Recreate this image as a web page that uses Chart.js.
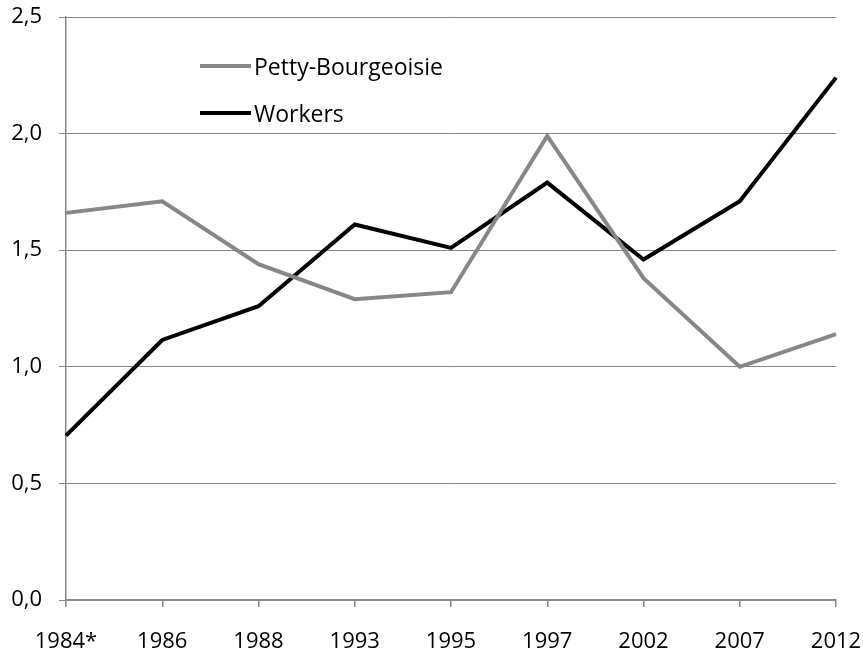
<!DOCTYPE html>
<html>
<head>
<meta charset="utf-8">
<script src="https://cdn.jsdelivr.net/npm/chart.js@4.4.1/dist/chart.umd.min.js"></script>
<style>
  html, body { margin: 0; padding: 0; background: #fff; }
  #wrap { position: relative; width: 863px; height: 653px; }
  .legend-item { position: absolute; left: 200px; display: flex; align-items: center;
    font-family: "Open Sans", sans-serif; font-size: 23px; line-height: 30px; color: #000; }
  .legend-item span.swatch { display: inline-block; width: 51px; height: 4px; margin-right: 3px; }
</style>
</head>
<body>
<div id="wrap">
  <canvas id="chart" width="863" height="653"></canvas>
  <div class="legend-item" style="top:51px;"><span class="swatch" style="background:#878787"></span>Petty-Bourgeoisie</div>
  <div class="legend-item" style="top:98px;"><span class="swatch" style="background:#000"></span>Workers</div>
</div>
<script>
// categories and series
const years = ["1984*", "1986", "1988", "1993", "1995", "1997", "2002", "2007", "2012"];
const pettyBourgeoisie = [1.66, 1.71, 1.44, 1.29, 1.32, 1.99, 1.38, 1.00, 1.14];
const workers = [0.705, 1.115, 1.26, 1.61, 1.51, 1.79, 1.46, 1.71, 2.24];

const gridGray = "#878787";

const ctx = document.getElementById("chart").getContext("2d");
new Chart(ctx, {
    type: "line",
    data: {
        labels: years,
        datasets: [
            {
                label: "Petty-Bourgeoisie",
                data: pettyBourgeoisie,
                borderColor: "#878787",
                borderWidth: 4,
                pointRadius: 0,
                tension: 0
            },
            {
                label: "Workers",
                data: workers,
                borderColor: "#000000",
                borderWidth: 4,
                pointRadius: 0,
                tension: 0
            }
        ]
    },
    options: {
        responsive: false,
        animation: false,
        layout: { padding: { top: 17, right: 27, left: 0, bottom: 0 } },
        plugins: {
            legend: { display: false },
            tooltip: { enabled: false }
        },
        scales: {
            x: {
                offset: false,
                grid: { drawOnChartArea: false, drawTicks: true, tickLength: 7, color: gridGray, lineWidth: 1.5 },
                border: { color: gridGray, width: 1.5 },
                ticks: { color: "#000", font: { family: "Open Sans", size: 22 }, padding: 22, maxRotation: 0, autoSkip: false },
                afterFit: (scale) => {
                    scale.height = 53;
                    scale.paddingLeft = 0;
                    scale.paddingRight = 0;
                }
            },
            y: {
                min: 0,
                max: 2.5,
                grid: { color: gridGray, lineWidth: 1, tickLength: 7 },
                border: { color: gridGray, width: 1.5 },
                ticks: {
                    stepSize: 0.5,
                    color: "#000",
                    padding: 17,
                    font: { family: "Open Sans", size: 22 },
                    callback: (v) => v.toFixed(1).replace(".", ",")
                },
                afterFit: (scale) => {
                    scale.width = 66;
                    scale.paddingTop = 0;
                    scale.paddingBottom = 0;
                }
            }
        }
    }
});
</script>
</body>
</html>
